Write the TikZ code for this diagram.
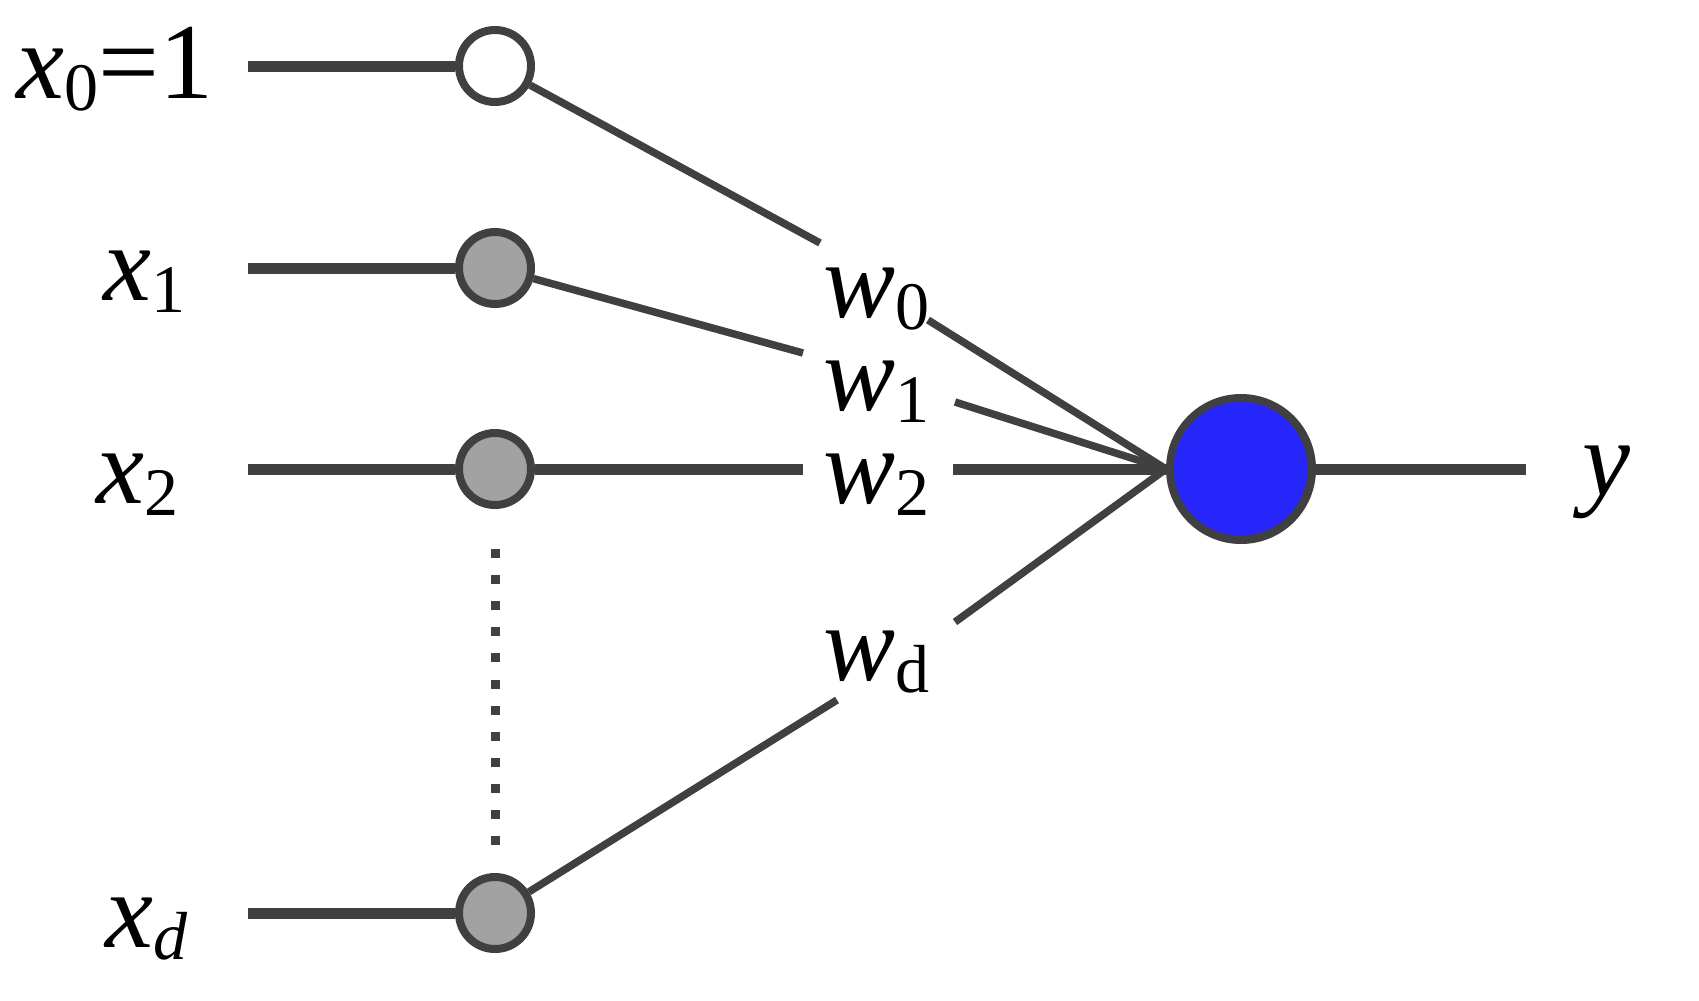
\documentclass[tikz,border=0pt]{standalone}
\usepackage{fontspec}
\setmainfont{Liberation Serif}
\definecolor{ln}{RGB}{64,64,64}
\definecolor{gr}{RGB}{162,162,162}
\definecolor{bl}{RGB}{38,38,250}
\newcommand\lsub[1]{\raisebox{-0.12em}{\fontsize{68bp}{68bp}\selectfont #1}}
\begin{document}
\begin{tikzpicture}[x=1bp,y=-1bp,
  lbl/.style={inner sep=0pt, anchor=base west, font=\fontsize{108bp}{108bp}\selectfont},
  inode/.style={circle, draw=ln, line width=8bp, minimum size=72bp, inner sep=0pt, fill=gr},
  onode/.style={circle, draw=ln, line width=8bp, minimum size=142bp, inner sep=0pt, fill=bl},
  wire/.style={draw=ln, line width=11bp},
  conn/.style={draw=ln, line width=7.5bp},
  dots/.style={draw=ln, line width=9bp, dash pattern=on 9bp off 17.1bp},
]
\useasboundingbox (0,0) rectangle (1699,1000);
% input nodes
\node[inode, fill=white] (i0) at (495,66) {};
\node[inode] (i1) at (495,268) {};
\node[inode] (i2) at (495,469) {};
\node[inode] (id) at (495,913) {};
\node[onode] (out) at (1241,469) {};
% input stubs
\coordinate (s0) at (248,66);
\coordinate (s1) at (248,268);
\coordinate (s2) at (248,469);
\coordinate (sd) at (248,913);
\draw[wire] (s0) -- (i0);
\draw[wire] (s1) -- (i1);
\draw[wire] (s2) -- (i2);
\draw[wire] (sd) -- (id);
% output stub
\coordinate (ye) at (1526,469);
\draw[wire] (out) -- (ye);
% dotted
\coordinate (da) at (495,549);
\coordinate (db) at (495,846);
\draw[dots] (da) -- (db);
% input labels
\node[lbl] (lx0) at (16,98) {\textit{x}\lsub{0}=1};
\node[lbl] (lx1) at (103,300) {\textit{x}\lsub{1}};
\node[lbl] (lx2) at (96,503) {\textit{x}\lsub{2}};
\node[lbl] (lxd) at (105,947) {\textit{x}\lsub{\textit{d}}};
\node[lbl] (ly) at (1582,495) {\textit{y}};
% weight labels
\node[lbl] (w0) at (823,317) {\textit{w}\lsub{0}};
\node[lbl] (w1) at (823,410) {\textit{w}\lsub{1}};
\node[lbl] (w2) at (823,503) {\textit{w}\lsub{2}};
\node[lbl] (wd) at (823,680) {\textit{w}\lsub{d}};
% gap ends around the weight labels
\coordinate (hub) at (out.west);
\coordinate (g0a) at (820,243);
\coordinate (g0b) at (928,320);
\coordinate (g1a) at (803,353);
\coordinate (g1b) at (955,402);
\coordinate (g2a) at (803,469);
\coordinate (g2b) at (953,469);
\coordinate (gda) at (837,700);
\coordinate (gdb) at (955,622);
% connections
\draw[conn] (i0) -- (g0a);
\draw[conn] (g0b) -- (hub);
\draw[conn] (i1) -- (g1a);
\draw[conn] (g1b) -- (hub);
\draw[wire] (i2) -- (g2a);
\draw[wire] (g2b) -- (hub);
\draw[conn] (id) -- (gda);
\draw[conn] (gdb) -- (hub);
\end{tikzpicture}
\end{document}
